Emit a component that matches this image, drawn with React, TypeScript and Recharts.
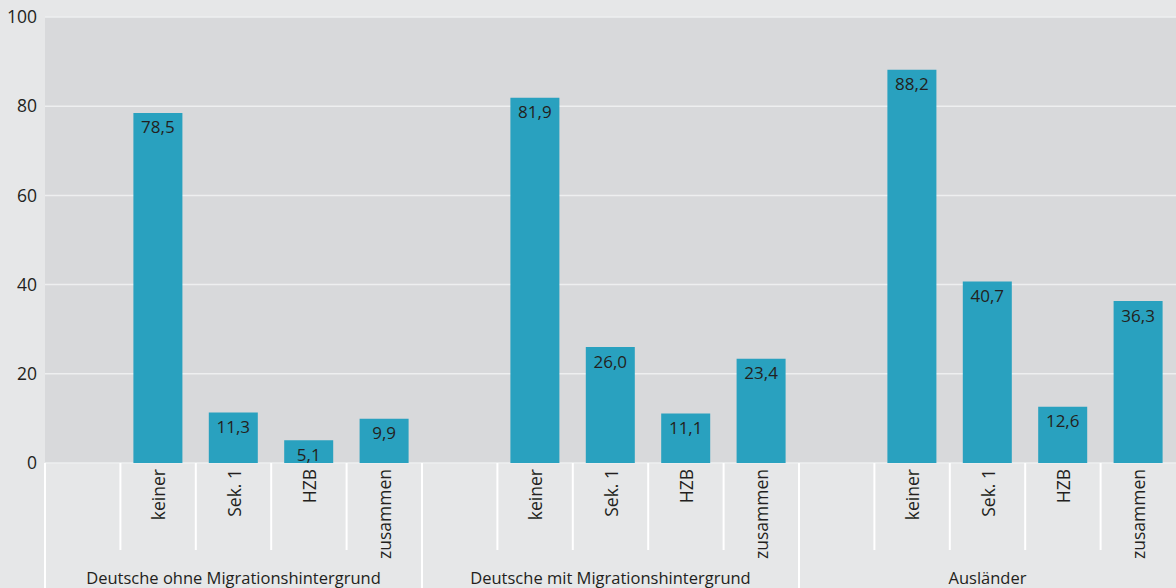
import React from "react";
import { BarChart, Bar, XAxis, YAxis, CartesianGrid, LabelList } from "recharts";

const groups = ["Deutsche ohne Migrationshintergrund", "Deutsche mit Migrationshintergrund", "Ausländer"];
const levels = ["", "keiner", "Sek. 1", "HZB", "zusammen"];
const ohneValues = [null, 78.5, 11.3, 5.1, 9.9];
const mitValues = [null, 81.9, 26.0, 11.1, 23.4];
const auslaenderValues = [null, 88.2, 40.7, 12.6, 36.3];
const yTicks = [0, 20, 40, 60, 80, 100];

const seriesByGroup = [ohneValues, mitValues, auslaenderValues];
const data = groups.flatMap((g, gi) =>
  levels.map((lvl, li) => ({
    key: `${gi}-${li}`,
    level: lvl,
    group: g,
    groupIndex: gi,
    levelIndex: li,
    value: seriesByGroup[gi][li],
  }))
);

const W = 1176;
const H = 588;
const LEFT = 45;
const TOP = 17;
const AXIS_H = 125;
const SLOT = (W - LEFT) / data.length;
const FONT = "'Open Sans', 'Noto Sans', sans-serif";
const TEXT = "#231f20";

const fmt = (v: number) => v.toFixed(1).replace(".", ",");

const XTick = (props: any) => {
  const { x, y, payload } = props;
  const d = data[payload.index];
  if (!d) return null;
  const left = x - SLOT / 2;
  const full = d.levelIndex === 0;
  return (
    <g>
      <line x1={left} x2={left} y1={y} y2={full ? H : y + 87} stroke="#ffffff" strokeWidth={2} />
      {d.level && (
        <text
          x={x}
          y={y + 6}
          transform={`rotate(-90, ${x}, ${y + 6})`}
          textAnchor="end"
          dominantBaseline="central"
          fontSize={17.5}
          fill={TEXT}
          fontFamily={FONT}
        >
          {d.level}
        </text>
      )}
      {d.levelIndex === 2 && (
        <text x={x} y={y + 114} textAnchor="middle" dominantBaseline="central" fontSize={16.5} fill={TEXT} fontFamily={FONT}>
          {d.group}
        </text>
      )}
    </g>
  );
};

const BarLabel = (props: any) => {
  const { x, y, width, value } = props;
  if (value == null) return null;
  return (
    <text x={x + width / 2} y={y + 14} textAnchor="middle" dominantBaseline="central" fontSize={17} fill={TEXT} fontFamily={FONT}>
      {fmt(value)}
    </text>
  );
};

export default function App() {
  return (
    <div style={{ position: "absolute", left: 0, top: 0, width: W, height: H, background: "#e6e7e8" }}>
      <BarChart width={W} height={H} data={data} margin={{ top: TOP, right: 0, bottom: 0, left: 0 }} barSize={49}>
        <CartesianGrid fill="#d8d9db" stroke="#eeeff0" strokeWidth={1.5} vertical={false} />
        <YAxis
          width={LEFT}
          domain={[0, 100]}
          ticks={yTicks}
          axisLine={false}
          tickLine={false}
          tick={{ fontSize: 17.5, fill: TEXT, fontFamily: FONT }}
        />
        <XAxis
          dataKey="key"
          height={AXIS_H}
          axisLine={false}
          tickLine={false}
          tickSize={0}
          tickMargin={0}
          interval={0}
          tick={<XTick />}
        />
        <Bar dataKey="value" fill="#29a1bf" isAnimationActive={false}>
          <LabelList dataKey="value" content={<BarLabel />} />
        </Bar>
      </BarChart>
    </div>
  );
}
